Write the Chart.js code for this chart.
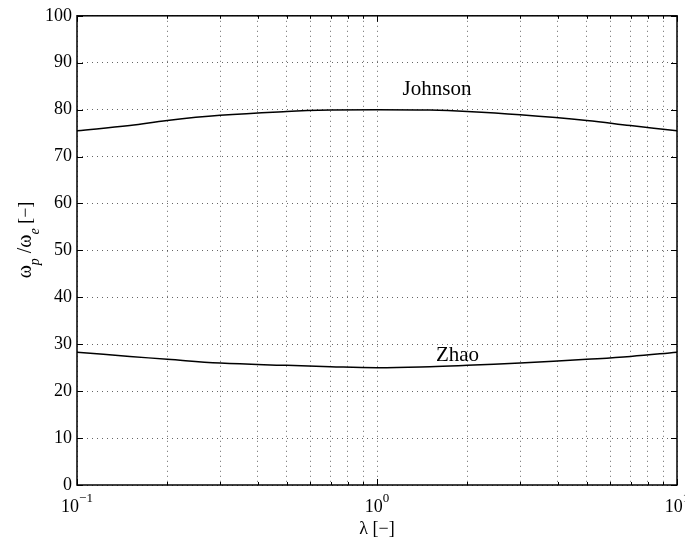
<!DOCTYPE html>
<html>
<head>
<meta charset="utf-8">
<script src="https://cdn.jsdelivr.net/npm/chart.js@4/dist/chart.umd.min.js"></script>
<style>
  html, body { margin: 0; padding: 0; background: #fff; }
  #wrap { width: 685px; height: 544px; }
</style>
</head>
<body>
<div id="wrap"><canvas id="chart"></canvas></div>
<script>
const lambdas = [0.1, 0.15, 0.2, 0.3, 0.5, 0.7, 1, 1.5, 2, 3, 5, 7, 10];
const johnson = [75.5, 76.6, 77.7, 78.8, 79.6, 79.9, 80.0, 79.9, 79.6, 78.9, 77.7, 76.6, 75.5];
const zhao    = [28.3, 27.4, 26.8, 26.0, 25.5, 25.2, 25.0, 25.2, 25.5, 26.0, 26.8, 27.4, 28.3];

const yTicks = [0, 10, 20, 30, 40, 50, 60, 70, 80, 90, 100];
const xDecades = [0.1, 1, 10];
const xTickLabels = ['-1', '0', '1'];

const curveLabels = [
    { text: 'Johnson', x: 1.585, y: 84.4 },
    { text: 'Zhao', x: 1.855, y: 27.7 }
];

const SERIF = '"Liberation Serif", "DejaVu Serif", serif';

function pts(ys) {
    return lambdas.map((l, i) => ({ x: l, y: ys[i] }));
}

const matlabLook = {
    id: 'matlabLook',
    afterDraw(chart) {
        const ctx = chart.ctx;
        const a = chart.chartArea;
        const xs = chart.scales.x;
        const ys = chart.scales.y;
        ctx.save();

        // inward tick marks
        ctx.strokeStyle = '#000';
        ctx.lineWidth = 1;
        ctx.setLineDash([]);
        ctx.beginPath();
        yTicks.forEach(v => {
            const py = Math.round(ys.getPixelForValue(v)) + 0.5;
            ctx.moveTo(a.left, py); ctx.lineTo(a.left + 6, py);
            ctx.moveTo(a.right, py); ctx.lineTo(a.right - 6, py);
        });
        xs.ticks.forEach(t => {
            const px = Math.round(xs.getPixelForValue(t.value)) + 0.5;
            const major = xDecades.includes(t.value);
            const len = major ? 6 : 3;
            ctx.moveTo(px, a.bottom); ctx.lineTo(px, a.bottom - len);
            ctx.moveTo(px, a.top); ctx.lineTo(px, a.top + len);
        });
        ctx.stroke();

        // box
        ctx.lineWidth = 1.5;
        ctx.strokeRect(a.left, a.top, a.right - a.left, a.bottom - a.top);

        // x tick labels with superscripts
        ctx.fillStyle = '#000';
        ctx.textBaseline = 'alphabetic';
        xDecades.forEach((d, i) => {
            const px = xs.getPixelForValue(d);
            ctx.font = '18px ' + SERIF;
            const wBase = ctx.measureText('10').width;
            const sup = xTickLabels[i].replace('-', '\u2212');
            ctx.font = '13px ' + SERIF;
            const wSup = ctx.measureText(sup).width;
            const x0 = px - (wBase + wSup) / 2;
            ctx.font = '18px ' + SERIF;
            ctx.textAlign = 'left';
            ctx.fillText('10', x0, a.bottom + 27);
            ctx.font = '13px ' + SERIF;
            ctx.fillText(sup, x0 + wBase, a.bottom + 17);
        });

        // x title
        ctx.font = '18px ' + SERIF;
        ctx.textAlign = 'center';
        ctx.fillText('\u03bb [\u2212]', (a.left + a.right) / 2, 534);

        // y title, rotated, with subscripts
        ctx.translate(31, 240);
        ctx.rotate(-Math.PI / 2);
        const parts = [
            { t: '\u03c9', font: '20px ' + SERIF, dy: 0 },
            { t: 'p', font: 'italic 14px ' + SERIF, dy: 8 },
            { t: ' /\u03c9', font: '20px ' + SERIF, dy: 0 },
            { t: 'e', font: 'italic 14px ' + SERIF, dy: 8 },
            { t: ' [\u2212]', font: '18px ' + SERIF, dy: 0 }
        ];
        let total = 0;
        parts.forEach(p => { ctx.font = p.font; total += ctx.measureText(p.t).width; });
        let cx = -total / 2;
        ctx.textAlign = 'left';
        parts.forEach(p => {
            ctx.font = p.font;
            ctx.fillText(p.t, cx, p.dy);
            cx += ctx.measureText(p.t).width;
        });
        ctx.setTransform(1, 0, 0, 1, 0, 0);

        // curve labels
        ctx.font = '21px ' + SERIF;
        ctx.textAlign = 'center';
        ctx.textBaseline = 'middle';
        curveLabels.forEach(l => {
            ctx.fillText(l.text, xs.getPixelForValue(l.x), ys.getPixelForValue(l.y));
        });

        ctx.restore();
    }
};

new Chart(document.getElementById('chart'), {
    type: 'line',
    data: {
        datasets: [
            { label: 'Johnson', data: pts(johnson), borderColor: '#000', borderWidth: 1.5, pointRadius: 0, tension: 0.4, fill: false },
            { label: 'Zhao', data: pts(zhao), borderColor: '#000', borderWidth: 1.5, pointRadius: 0, tension: 0.4, fill: false }
        ]
    },
    options: {
        responsive: true,
        maintainAspectRatio: false,
        animation: false,
        devicePixelRatio: 1,
        layout: { padding: { top: 12, right: 8, left: 0, bottom: 0 } },
        plugins: { legend: { display: false }, tooltip: { enabled: false } },
        scales: {
            x: {
                type: 'logarithmic',
                min: 0.1,
                max: 10,
                afterBuildTicks(scale) {
                    const t = [];
                    [0.1, 1].forEach(d => { for (let k = 1; k <= 9; k++) t.push({ value: +(k * d).toPrecision(3) }); });
                    t.push({ value: 10 });
                    scale.ticks = t;
                },
                afterFit(scale) { scale.height = 59; },
                ticks: { display: false },
                // in v4 the grid line dash sits under border
                border: { display: false, dash: [1, 4] },
                grid: {
                    drawTicks: false,
                    color: 'rgba(0,0,0,0.6)',
                    lineWidth: 1
                }
            },
            y: {
                min: 0,
                max: 100,
                afterBuildTicks(scale) { scale.ticks = yTicks.map(v => ({ value: v })); },
                afterFit(scale) { scale.width = 77; },
                border: { display: false, dash: [1, 4] },
                ticks: {
                    color: '#000',
                    padding: 5,
                    font: { family: SERIF, size: 18 }
                },
                grid: {
                    drawTicks: false,
                    color: 'rgba(0,0,0,0.6)',
                    lineWidth: 1
                }
            }
        }
    },
    plugins: [matlabLook]
});
</script>
</body>
</html>
